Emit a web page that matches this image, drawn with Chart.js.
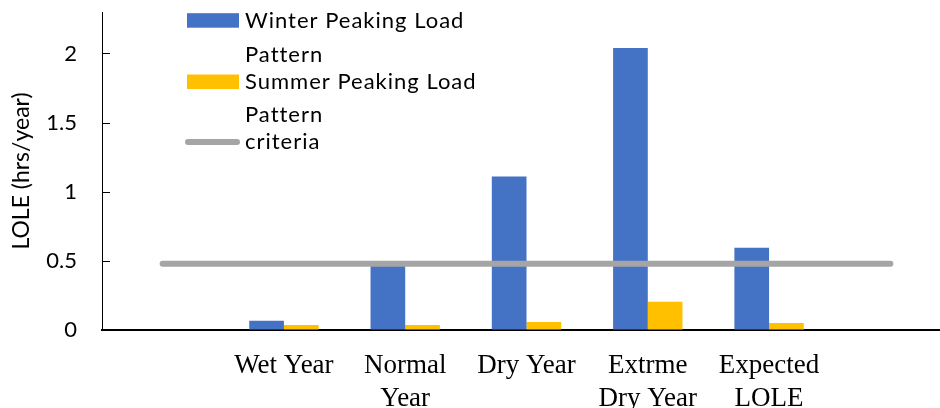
<!DOCTYPE html>
<html>
<head>
<meta charset="utf-8">
<script src="https://cdn.jsdelivr.net/npm/chart.js@4/dist/chart.umd.min.js"></script>
<style>
  html, body { margin: 0; padding: 0; background: #fff; overflow: hidden; }
  #wrap { position: relative; width: 955px; height: 408px; }
</style>
</head>
<body>
<div id="wrap"><canvas id="lole"></canvas></div>
<script>
const categories = ['', 'Wet Year', ['Normal', 'Year'], 'Dry Year', ['Extrme', 'Dry Year'], ['Expected', 'LOLE'], '']
const winterLoad = [null, 0.067, 0.47, 1.11, 2.04, 0.594, null]
const summerLoad = [null, 0.036, 0.036, 0.058, 0.204, 0.05, null]
const criteria = [0.48, 0.48, 0.48, 0.48, 0.48, 0.48, 0.48]
const yTicks = [0, 0.5, 1, 1.5, 2]
const legendLines = [['Winter Peaking Load', 'Pattern'], ['Summer Peaking Load', 'Pattern'], ['criteria']]

const SANS = 'Lato, "Open Sans", sans-serif'
const SERIF = '"Liberation Serif", "Times New Roman", serif'

// inward tick marks on the value axis, like the original
const innerTicks = {
  id: 'innerTicks',
  afterDraw(chart) {
    const { ctx, scales: { y }, chartArea } = chart
    ctx.save()
    ctx.strokeStyle = '#000'
    ctx.lineWidth = 1
    y.ticks.forEach(t => {
      const py = Math.round(y.getPixelForValue(t.value)) + 0.5
      ctx.beginPath()
      ctx.moveTo(chartArea.left, py)
      ctx.lineTo(chartArea.left + 8, py)
      ctx.stroke()
    })
    ctx.restore()
  },
}

// legend drawn in the top-left of the plot, with wrapped names
const wrappedLegend = {
  id: 'wrappedLegend',
  afterDraw(chart) {
    const { ctx } = chart
    const ds = chart.data.datasets
    ctx.save()
    ctx.font = '22px ' + SANS
    ctx.letterSpacing = '1px'
    ctx.textBaseline = 'alphabetic'
    const baselines = [[27.7, 61.7], [89, 122], [149]]
    ds.forEach((d, i) => {
      if (d.type === 'line') {
        ctx.strokeStyle = d.borderColor
        ctx.lineWidth = 6
        ctx.lineCap = 'round'
        ctx.beginPath()
        ctx.moveTo(188, 142)
        ctx.lineTo(237, 142)
        ctx.stroke()
      } else {
        ctx.fillStyle = d.backgroundColor
        ctx.fillRect(187, baselines[i][0] - 14.5, 52, 14.5)
      }
      ctx.fillStyle = '#000'
      legendLines[i].forEach((txt, j) => ctx.fillText(txt, 245, baselines[i][j]))
    })
    ctx.restore()
  },
}

new Chart(document.getElementById('lole'), {
  type: 'bar',
  data: {
    labels: categories,
    datasets: [
      {
        label: 'Winter Peaking Load Pattern',
        data: winterLoad,
        backgroundColor: '#4472C4',
        order: 1,
      },
      {
        label: 'Summer Peaking Load Pattern',
        data: summerLoad,
        backgroundColor: '#FFC000',
        order: 1,
      },
      {
        type: 'line',
        label: 'criteria',
        data: criteria,
        borderColor: '#A5A5A5',
        borderWidth: 6,
        borderCapStyle: 'round',
        pointRadius: 0,
        order: 0,
      },
    ],
  },
  options: {
    animation: false,
    responsive: true,
    maintainAspectRatio: false,
    layout: { padding: { top: 12, right: 4, left: 0, bottom: 0 } },
    plugins: {
      legend: { display: false },
      tooltip: { enabled: false },
    },
    datasets: {
      bar: { categoryPercentage: 0.572, barPercentage: 1 },
    },
    scales: {
      x: {
        offset: true,
        grid: { drawOnChartArea: false, drawTicks: false },
        border: { color: '#000', width: 2 },
        ticks: {
          color: '#000',
          font: { family: SERIF, size: 27, lineHeight: 1.23 },
          padding: 19,
          maxRotation: 0,
          autoSkip: false,
        },
        afterFit: s => { s.height = 78; s.paddingLeft = 0; s.paddingRight = 0 },
      },
      y: {
        min: 0,
        max: 2.3,
        grid: { drawOnChartArea: false, drawTicks: false },
        border: { color: '#000', width: 1 },
        afterBuildTicks: s => { s.ticks = yTicks.map(v => ({ value: v })) },
        ticks: {
          color: '#000',
          font: { family: SANS, size: 22 },
          padding: 25,
          callback: v => String(v),
        },
        title: {
          display: true,
          text: 'LOLE (hrs/year)',
          color: '#000',
          font: { family: SANS, size: 23 },
          padding: { top: 8, bottom: 0 },
        },
        afterFit: s => { s.width = 102; s.paddingTop = 0; s.paddingBottom = 0 },
      },
    },
  },
  plugins: [innerTicks, wrappedLegend],
})
</script>
</body>
</html>
